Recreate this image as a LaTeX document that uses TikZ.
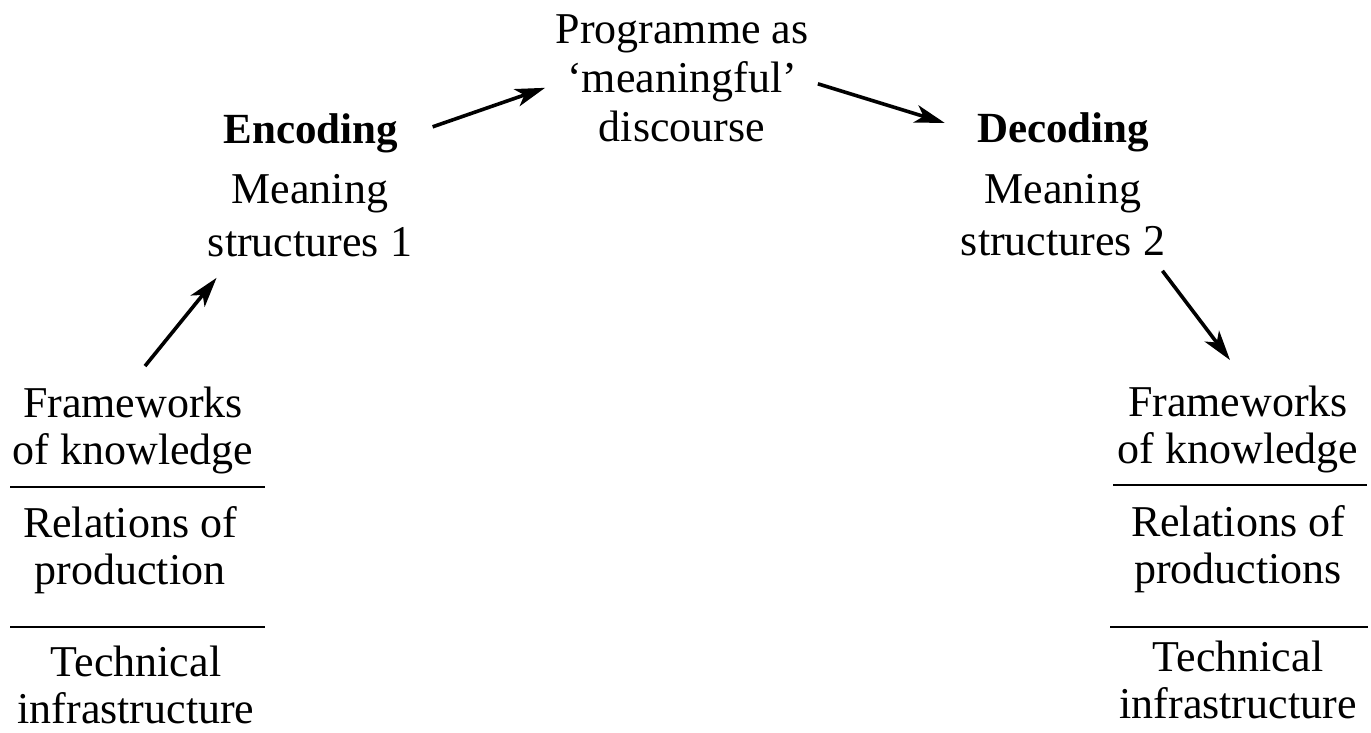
\documentclass[tikz,border=0pt]{standalone}
\usepackage{fontspec}
\setmainfont{Liberation Serif}
\usetikzlibrary{arrows.meta,calc}
\begin{document}
\begin{tikzpicture}[x=0.5pt,y=-0.5pt,
  txt/.style={inner sep=0pt,align=center,anchor=base,font=\fontsize{22}{23.5}\selectfont},
  toptxt/.style={txt,font=\fontsize{22}{24.5}\selectfont},
  mtxt/.style={txt,font=\fontsize{22}{26}\selectfont},
  hdr/.style={txt,font=\fontsize{21.5}{24}\selectfont\bfseries},
  arr/.style={line width=1.8pt,-{Stealth[length=15pt,width=9pt,inset=4pt]}},
  rule/.style={line width=1.4pt}]
\useasboundingbox (0,0) rectangle (1371,733);
% top
\node[toptxt] (prog) at (682,141) {Programme as\\`meaningful'\\discourse};
% encoding side
\node[hdr] (enc) at (311,143) {Encoding};
\node[mtxt] (msL) at (310,256) {Meaning\\structures 1};
% decoding side
\node[hdr] (dec) at (1063,142) {Decoding};
\node[mtxt] (msR) at (1063,255) {Meaning\\structures 2};
% left stack
\node[txt] (fwL) at (133,464) {Frameworks\\of knowledge};
\node[txt] (rpL) at (130,584) {Relations of\\production};
\node[txt] (tiL) at (136,723) {Technical\\infrastructure};
\draw[rule] (10,487) -- (265,487);
\draw[rule] (10,627) -- (265,627);
% right stack
\node[txt] (fwR) at (1238,463) {Frameworks\\of knowledge};
\node[txt] (rpR) at (1238,583) {Relations of\\productions};
\node[txt] (tiR) at (1238,718) {Technical\\infrastructure};
\draw[rule] (1113,485) -- (1367,485);
\draw[rule] (1110,627) -- (1368,627);
% arrows
\draw[arr] ($(fwL.north)+(12,-20)$) -- ($(msL.south west)+(9,21)$);
\draw[arr] ($(enc.east)+(34,-6)$) -- ($(prog.west)+(-10,10)$);
\draw[arr] ($(prog.east)+(9,6)$) -- ($(dec.west)+(-32,-9)$);
\draw[arr] ($(msR.south east)+(-3,15)$) -- ($(fwR.north)+(-8,-25)$);
\end{tikzpicture}
\end{document}
